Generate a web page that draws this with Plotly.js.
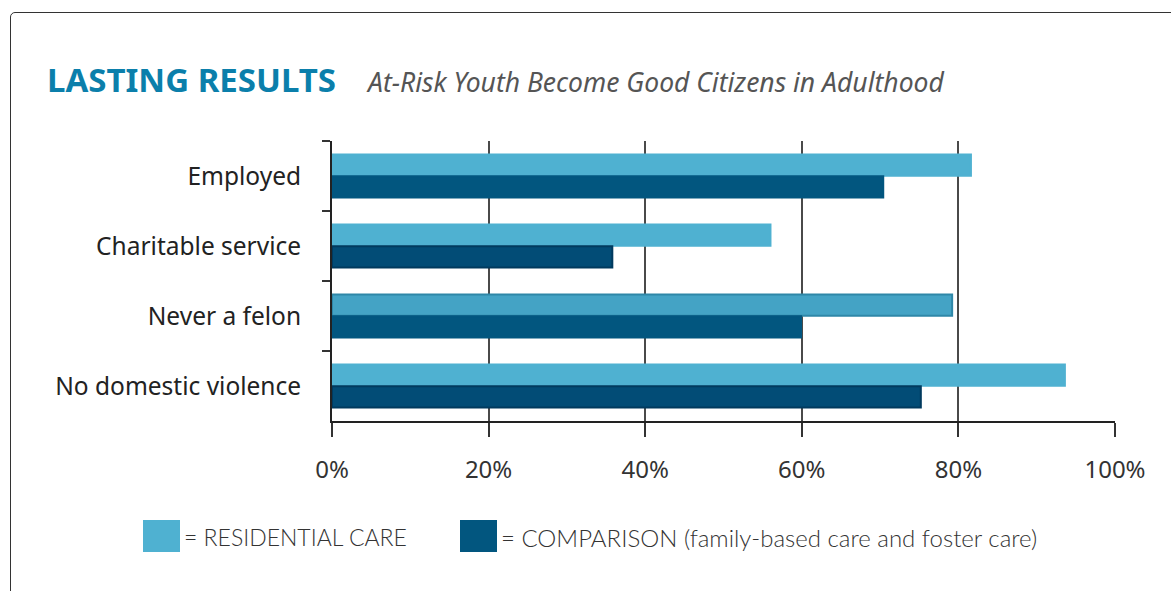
<!DOCTYPE html>
<html>
<head>
<meta charset="utf-8">
<script src="https://cdn.plot.ly/plotly-3.0.1.min.js"></script>
<style>
  html, body { margin: 0; padding: 0; background: #fff; }
  #wrap { position: relative; width: 1171px; height: 591px; overflow: hidden; }
  #frame { position: absolute; left: 10px; top: 12px; width: 1220px; height: 640px;
           border: 1.5px solid #333; border-radius: 5px; box-sizing: border-box; }
  #chart { position: absolute; left: 0; top: 0; width: 1171px; height: 591px; }
</style>
</head>
<body>
<div id="wrap">
  <div id="frame"></div>
  <div id="chart"></div>
</div>
<script>
// ---- data ----
const categories = ["Employed", "Charitable service", "Never a felon", "No domestic violence"];
const residentialValues = [81.6, 56.0, 79.2, 93.6];
const comparisonValues = [70.4, 35.8, 59.9, 75.2];
const seriesNames = ["= RESIDENTIAL CARE", "= COMPARISON (family-based care and foster care)"];
const xTickValues = [0, 20, 40, 60, 80, 100];
const xTickLabels = ["0%", "20%", "40%", "60%", "80%", "100%"];
const titleText = "LASTING RESULTS";
const subtitleText = "At-Risk Youth Become Good Citizens in Adulthood";

// ---- styles ----
const colResidential = "#4fb1d1";
const colComparison = "#02567f";
const residentialFill = [colResidential, colResidential, "#44a3c5", colResidential];
const residentialEdge = [colResidential, colResidential, "#2f87a8", colResidential];
const comparisonFill = [colComparison, "#024c76", colComparison, "#024c76"];
const comparisonEdge = [colComparison, "#013a5e", colComparison, "#013a5e"];
const labelFont = "Noto Sans, Open Sans, sans-serif";

const traces = [
  {
    type: "bar", orientation: "h", name: seriesNames[0],
    y: categories, x: residentialValues,
    marker: { color: residentialFill, line: { width: 2, color: residentialEdge } },
    hoverinfo: "x+y", showlegend: false
  },
  {
    type: "bar", orientation: "h", name: seriesNames[1],
    y: categories, x: comparisonValues,
    marker: { color: comparisonFill, line: { width: 2, color: comparisonEdge } },
    hoverinfo: "x+y", showlegend: false
  }
];

// plot area: x 332..1115, y 141..421
const L = 332, R = 1115, T = 141, B = 421;
const px = v => (v - L) / (R - L);
const py = v => (B - v) / (B - T);

const layout = {
  width: 1171, height: 591,
  margin: { l: L, r: 1171 - R, t: T, b: 591 - B, pad: 0 },
  paper_bgcolor: "rgba(0,0,0,0)",
  plot_bgcolor: "rgba(0,0,0,0)",
  barmode: "group",
  bargap: 0.38,
  bargroupgap: 0.02,
  showlegend: false,
  title: {
    text: "<b>" + titleText + "</b>",
    x: 47 / 1171, xanchor: "left", xref: "container",
    y: 1 - 80 / 591, yanchor: "middle", yref: "container",
    font: { family: labelFont, size: 33, color: "#0b7fab" }
  },
  xaxis: {
    range: [0, 100],
    tickvals: xTickValues, ticktext: xTickLabels,
    showgrid: true, gridcolor: "#4a4a4a", gridwidth: 2,
    showline: true, linecolor: "#222", linewidth: 2,
    ticks: "outside", ticklen: 14, tickwidth: 2, tickcolor: "#333",
    ticklabelstandoff: 12,
    tickfont: { family: labelFont, size: 24, color: "#333" },
    zeroline: false, fixedrange: true
  },
  yaxis: {
    type: "category",
    categoryorder: "array", categoryarray: categories,
    autorange: "reversed",
    tickson: "boundaries",
    ticks: "outside", ticklen: 8, tickwidth: 2, tickcolor: "#333",
    showline: true, linecolor: "#222", linewidth: 2,
    showgrid: false, zeroline: false,
    ticklabelstandoff: 24,
    tickfont: { family: labelFont, size: 24.5, color: "#222" },
    fixedrange: true
  },
  annotations: [
    {
      xref: "paper", yref: "paper",
      x: px(364), y: py(82), xanchor: "left", yanchor: "middle",
      text: "<i>" + subtitleText + "</i>", showarrow: false,
      font: { family: labelFont, size: 26.5, color: "#555" }
    },
    {
      xref: "paper", yref: "paper",
      x: px(182), y: py(537), xanchor: "left", yanchor: "middle",
      text: seriesNames[0], showarrow: false,
      font: { family: "Lato, sans-serif", size: 23, color: "#333", weight: 300 }
    },
    {
      xref: "paper", yref: "paper",
      x: px(499), y: py(537), xanchor: "left", yanchor: "middle",
      text: seriesNames[1], showarrow: false,
      font: { family: "Lato, sans-serif", size: 24, color: "#333", weight: 300 }
    }
  ],
  shapes: [
    {
      type: "rect", xref: "paper", yref: "paper",
      x0: px(143), x1: px(180), y0: py(520), y1: py(552),
      fillcolor: colResidential, line: { width: 0 }
    },
    {
      type: "rect", xref: "paper", yref: "paper",
      x0: px(460), x1: px(497), y0: py(520), y1: py(552),
      fillcolor: colComparison, line: { width: 0 }
    }
  ]
};

Plotly.newPlot("chart", traces, layout, { displayModeBar: false, staticPlot: true });
</script>
</body>
</html>
